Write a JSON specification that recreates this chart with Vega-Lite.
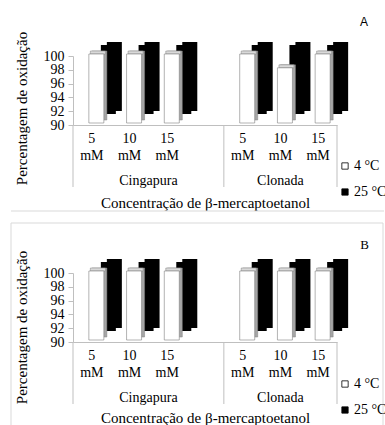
{
  "$schema": "https://vega.github.io/schema/vega-lite/v6.json",
  "background": "white",
  "padding": {"left": 10, "top": 16, "right": 0, "bottom": 0},
  "spacing": 10,
  "datasets": {
    "oxidacao": [
      {"painel": "A", "amostra": "Cingapura", "conc": "5 mM", "categoria": "Cingapura|5 mM", "temp": "4 °C", "valor": 100},
      {"painel": "A", "amostra": "Cingapura", "conc": "5 mM", "categoria": "Cingapura|5 mM", "temp": "25 °C", "valor": 100},
      {"painel": "A", "amostra": "Cingapura", "conc": "10 mM", "categoria": "Cingapura|10 mM", "temp": "4 °C", "valor": 100},
      {"painel": "A", "amostra": "Cingapura", "conc": "10 mM", "categoria": "Cingapura|10 mM", "temp": "25 °C", "valor": 100},
      {"painel": "A", "amostra": "Cingapura", "conc": "15 mM", "categoria": "Cingapura|15 mM", "temp": "4 °C", "valor": 100},
      {"painel": "A", "amostra": "Cingapura", "conc": "15 mM", "categoria": "Cingapura|15 mM", "temp": "25 °C", "valor": 100},
      {"painel": "A", "amostra": "Clonada", "conc": "5 mM", "categoria": "Clonada|5 mM", "temp": "4 °C", "valor": 100},
      {"painel": "A", "amostra": "Clonada", "conc": "5 mM", "categoria": "Clonada|5 mM", "temp": "25 °C", "valor": 100},
      {"painel": "A", "amostra": "Clonada", "conc": "10 mM", "categoria": "Clonada|10 mM", "temp": "4 °C", "valor": 98},
      {"painel": "A", "amostra": "Clonada", "conc": "10 mM", "categoria": "Clonada|10 mM", "temp": "25 °C", "valor": 100},
      {"painel": "A", "amostra": "Clonada", "conc": "15 mM", "categoria": "Clonada|15 mM", "temp": "4 °C", "valor": 100},
      {"painel": "A", "amostra": "Clonada", "conc": "15 mM", "categoria": "Clonada|15 mM", "temp": "25 °C", "valor": 100},
      {"painel": "B", "amostra": "Cingapura", "conc": "5 mM", "categoria": "Cingapura|5 mM", "temp": "4 °C", "valor": 100},
      {"painel": "B", "amostra": "Cingapura", "conc": "5 mM", "categoria": "Cingapura|5 mM", "temp": "25 °C", "valor": 100},
      {"painel": "B", "amostra": "Cingapura", "conc": "10 mM", "categoria": "Cingapura|10 mM", "temp": "4 °C", "valor": 100},
      {"painel": "B", "amostra": "Cingapura", "conc": "10 mM", "categoria": "Cingapura|10 mM", "temp": "25 °C", "valor": 100},
      {"painel": "B", "amostra": "Cingapura", "conc": "15 mM", "categoria": "Cingapura|15 mM", "temp": "4 °C", "valor": 100},
      {"painel": "B", "amostra": "Cingapura", "conc": "15 mM", "categoria": "Cingapura|15 mM", "temp": "25 °C", "valor": 100},
      {"painel": "B", "amostra": "Clonada", "conc": "5 mM", "categoria": "Clonada|5 mM", "temp": "4 °C", "valor": 100},
      {"painel": "B", "amostra": "Clonada", "conc": "5 mM", "categoria": "Clonada|5 mM", "temp": "25 °C", "valor": 100},
      {"painel": "B", "amostra": "Clonada", "conc": "10 mM", "categoria": "Clonada|10 mM", "temp": "4 °C", "valor": 100},
      {"painel": "B", "amostra": "Clonada", "conc": "10 mM", "categoria": "Clonada|10 mM", "temp": "25 °C", "valor": 100},
      {"painel": "B", "amostra": "Clonada", "conc": "15 mM", "categoria": "Clonada|15 mM", "temp": "4 °C", "valor": 100},
      {"painel": "B", "amostra": "Clonada", "conc": "15 mM", "categoria": "Clonada|15 mM", "temp": "25 °C", "valor": 100}
    ]
  },
  "config": {
    "font": "Liberation Serif",
    "view": {"stroke": null},
    "axis": {
      "labelFont": "Liberation Serif",
      "titleFont": "Liberation Serif",
      "labelColor": "#000",
      "titleColor": "#000",
      "titleFontWeight": "normal",
      "domainColor": "#bfbfbf",
      "tickColor": "#bfbfbf",
      "labelOverlap": false,
      "grid": false
    }
  },
  "resolve": {"scale": {"color": "independent"}, "legend": {"color": "independent"}},
  "vconcat": [
    {
      "width": 264,
      "height": 69,
      "title": {"text": "A", "anchor": "end", "frame": "group", "dx": 31, "offset": -7, "baseline": "alphabetic", "font": "Liberation Sans", "fontSize": 12, "fontWeight": "normal", "color": "#000"},
      "data": {"name": "oxidacao"},
      "transform": [{"filter": "datum.painel == 'A'"}],
      "encoding": {
        "x": {
          "field": "categoria", "type": "nominal",
          "scale": {"domain": ["Cingapura|5 mM", "Cingapura|10 mM", "Cingapura|15 mM", "Cingapura|", "Clonada|5 mM", "Clonada|10 mM", "Clonada|15 mM"], "paddingInner": 0, "paddingOuter": 0},
          "title": "Concentração de β-mercaptoetanol",
          "axis": {"labelExpr": "split(split(datum.label, '|')[1], ' ')", "labelAngle": 0, "ticks": false, "tickSize": 0, "labelPadding": 6, "labelFont": "Liberation Serif", "labelFontSize": 14, "labelLineHeight": 17, "labelBaseline": "top", "titleFont": "Liberation Serif", "titleFontSize": 15, "titleX": 132, "titleY": 77, "titleAlign": "center", "titleBaseline": "middle"}
        },
        "y": {
          "field": "valor", "type": "quantitative",
          "scale": {"domain": [90, 100], "nice": false, "zero": false},
          "title": "Percentagem de oxidação",
          "axis": {"values": [90, 92, 94, 96, 98, 100], "format": "d", "labelOverlap": false, "tickSize": 5, "labelPadding": 4, "labelFont": "Liberation Serif", "labelFontSize": 14, "titleFont": "Liberation Serif", "titleFontSize": 15, "titleX": -52, "titleY": 52, "titleAngle": -90, "titleAlign": "center", "titleBaseline": "middle"}
        }
      },
      "layer": [
        {
          "transform": [{"filter": "datum.categoria == 'Cingapura|5 mM' && datum.temp == '4 °C'"}],
          "mark": {"type": "rule", "color": "#d9d9d9", "xOffset": -62, "x2Offset": 47, "yOffset": 86},
          "encoding": {
            "x": {"datum": "Cingapura|5 mM", "bandPosition": 0, "title": "Concentração de β-mercaptoetanol"},
            "x2": {"datum": "Clonada|15 mM", "bandPosition": 1},
            "y": {"datum": 90}
          }
        },
        {
          "transform": [{"filter": "datum.temp == '25 °C'"}],
          "mark": {"type": "bar", "width": 15, "xOffset": 22.5, "yOffset": -14, "y2Offset": -14, "color": "#000"},
          "encoding": {"y2": {"datum": 90}}
        },
        {
          "transform": [{"filter": "datum.temp == '25 °C'"}],
          "mark": {"type": "bar", "width": 15, "xOffset": 16.5, "yOffset": -11, "y2Offset": -11, "color": "#000"},
          "encoding": {"y2": {"datum": 90}}
        },
        {
          "transform": [{"filter": "datum.temp == '4 °C'"}],
          "mark": {"type": "bar", "width": 15, "xOffset": 7.5, "yOffset": -5, "y2Offset": -5, "color": "#a6a6a6", "stroke": "#808080", "strokeWidth": 0.5},
          "encoding": {"y2": {"datum": 90}}
        },
        {
          "transform": [{"filter": "datum.temp == '4 °C'"}],
          "mark": {"type": "bar", "width": 15, "xOffset": 6, "yOffset": -5, "y2Offset": -2, "color": "#d9d9d9", "stroke": "#808080", "strokeWidth": 0.5},
          "encoding": {"y2": {"field": "valor"}}
        },
        {
          "transform": [{"filter": "datum.temp == '4 °C'"}],
          "mark": {"type": "bar", "width": 15, "xOffset": 4.5, "yOffset": -2, "y2Offset": -2, "stroke": "#808080", "strokeWidth": 0.6},
          "encoding": {
            "y2": {"datum": 90},
            "color": {
              "field": "temp", "type": "nominal",
              "scale": {"domain": ["4 °C", "25 °C"], "range": ["#ffffff", "#000000"]},
              "legend": {"orient": "none", "legendX": 265, "legendY": 103, "title": null, "padding": 0, "symbolType": "square", "symbolSize": 40, "symbolStrokeColor": "#000", "symbolStrokeWidth": 0.8, "labelFont": "Liberation Serif", "labelFontSize": 14, "labelColor": "#000", "labelOffset": 2, "rowPadding": 12}
            }
          }
        },
        {
          "transform": [{"filter": "datum.conc == '5 mM' && datum.temp == '4 °C'"}],
          "mark": {"type": "rule", "color": "#bfbfbf", "y2Offset": 62},
          "encoding": {
            "x": {"field": "categoria", "type": "nominal", "bandPosition": 0, "title": "Concentração de β-mercaptoetanol"},
            "y": {"datum": 90},
            "y2": {"datum": 90}
          }
        },
        {
          "transform": [{"filter": "datum.categoria == 'Clonada|15 mM' && datum.temp == '4 °C'"}],
          "mark": {"type": "rule", "color": "#bfbfbf", "y2Offset": 62},
          "encoding": {
            "x": {"field": "categoria", "type": "nominal", "bandPosition": 1, "title": "Concentração de β-mercaptoetanol"},
            "y": {"datum": 90},
            "y2": {"datum": 90}
          }
        },
        {
          "transform": [{"filter": "datum.categoria == 'Cingapura|10 mM' && datum.temp == '4 °C'"}],
          "mark": {"type": "text", "yOffset": 56, "baseline": "middle", "align": "center", "font": "Liberation Serif", "fontSize": 14, "color": "#000"},
          "encoding": {
            "x": {"field": "categoria", "type": "nominal", "bandPosition": 1, "title": "Concentração de β-mercaptoetanol"},
            "y": {"datum": 90},
            "text": {"field": "amostra"}
          }
        },
        {
          "transform": [{"filter": "datum.categoria == 'Clonada|10 mM' && datum.temp == '4 °C'"}],
          "mark": {"type": "text", "yOffset": 56, "baseline": "middle", "align": "center", "font": "Liberation Serif", "fontSize": 14, "color": "#000"},
          "encoding": {
            "x": {"field": "categoria", "type": "nominal", "bandPosition": 0.5, "title": "Concentração de β-mercaptoetanol"},
            "y": {"datum": 90},
            "text": {"field": "amostra"}
          }
        }
      ]
    },
    {
      "width": 264,
      "height": 69,
      "title": {"text": "B", "anchor": "end", "frame": "group", "dx": 32, "offset": -39, "baseline": "alphabetic", "font": "Liberation Serif", "fontSize": 13, "fontWeight": "normal", "color": "#000"},
      "data": {"name": "oxidacao"},
      "transform": [{"filter": "datum.painel == 'B'"}],
      "encoding": {
        "x": {
          "field": "categoria", "type": "nominal",
          "scale": {"domain": ["Cingapura|5 mM", "Cingapura|10 mM", "Cingapura|15 mM", "Cingapura|", "Clonada|5 mM", "Clonada|10 mM", "Clonada|15 mM"], "paddingInner": 0, "paddingOuter": 0},
          "title": "Concentração de β-mercaptoetanol",
          "axis": {"labelExpr": "split(split(datum.label, '|')[1], ' ')", "labelAngle": 0, "ticks": false, "tickSize": 0, "labelPadding": 6, "labelFont": "Liberation Serif", "labelFontSize": 14, "labelLineHeight": 17, "labelBaseline": "top", "titleFont": "Liberation Serif", "titleFontSize": 15, "titleX": 132, "titleY": 75, "titleAlign": "center", "titleBaseline": "middle"}
        },
        "y": {
          "field": "valor", "type": "quantitative",
          "scale": {"domain": [90, 100], "nice": false, "zero": false},
          "title": "Percentagem de oxidação",
          "axis": {"values": [90, 92, 94, 96, 98, 100], "format": "d", "labelOverlap": false, "tickSize": 5, "labelPadding": 4, "labelFont": "Liberation Serif", "labelFontSize": 14, "titleFont": "Liberation Serif", "titleFontSize": 15, "titleX": -52, "titleY": 54, "titleAngle": -90, "titleAlign": "center", "titleBaseline": "middle"}
        }
      },
      "layer": [
        {
          "transform": [{"filter": "datum.categoria == 'Cingapura|5 mM' && datum.temp == '4 °C'"}],
          "mark": {"type": "rect", "filled": false, "stroke": "#d9d9d9", "strokeWidth": 1, "xOffset": -62, "x2Offset": 46, "yOffset": -50, "y2Offset": 92},
          "encoding": {
            "x": {"datum": "Cingapura|5 mM", "bandPosition": 0, "title": "Concentração de β-mercaptoetanol"},
            "x2": {"datum": "Clonada|15 mM", "bandPosition": 1},
            "y": {"datum": 100},
            "y2": {"datum": 90}
          }
        },
        {
          "transform": [{"filter": "datum.temp == '25 °C'"}],
          "mark": {"type": "bar", "width": 15, "xOffset": 22.5, "yOffset": -14, "y2Offset": -14, "color": "#000"},
          "encoding": {"y2": {"datum": 90}}
        },
        {
          "transform": [{"filter": "datum.temp == '25 °C'"}],
          "mark": {"type": "bar", "width": 15, "xOffset": 16.5, "yOffset": -11, "y2Offset": -11, "color": "#000"},
          "encoding": {"y2": {"datum": 90}}
        },
        {
          "transform": [{"filter": "datum.temp == '4 °C'"}],
          "mark": {"type": "bar", "width": 15, "xOffset": 7.5, "yOffset": -5, "y2Offset": -5, "color": "#a6a6a6", "stroke": "#808080", "strokeWidth": 0.5},
          "encoding": {"y2": {"datum": 90}}
        },
        {
          "transform": [{"filter": "datum.temp == '4 °C'"}],
          "mark": {"type": "bar", "width": 15, "xOffset": 6, "yOffset": -5, "y2Offset": -2, "color": "#d9d9d9", "stroke": "#808080", "strokeWidth": 0.5},
          "encoding": {"y2": {"field": "valor"}}
        },
        {
          "transform": [{"filter": "datum.temp == '4 °C'"}],
          "mark": {"type": "bar", "width": 15, "xOffset": 4.5, "yOffset": -2, "y2Offset": -2, "stroke": "#808080", "strokeWidth": 0.6},
          "encoding": {
            "y2": {"datum": 90},
            "color": {
              "field": "temp", "type": "nominal",
              "scale": {"domain": ["4 °C", "25 °C"], "range": ["#ffffff", "#000000"]},
              "legend": {"orient": "none", "legendX": 265, "legendY": 104, "title": null, "padding": 0, "symbolType": "square", "symbolSize": 40, "symbolStrokeColor": "#000", "symbolStrokeWidth": 0.8, "labelFont": "Liberation Serif", "labelFontSize": 14, "labelColor": "#000", "labelOffset": 2, "rowPadding": 12}
            }
          }
        },
        {
          "transform": [{"filter": "datum.conc == '5 mM' && datum.temp == '4 °C'"}],
          "mark": {"type": "rule", "color": "#bfbfbf", "y2Offset": 62},
          "encoding": {
            "x": {"field": "categoria", "type": "nominal", "bandPosition": 0, "title": "Concentração de β-mercaptoetanol"},
            "y": {"datum": 90},
            "y2": {"datum": 90}
          }
        },
        {
          "transform": [{"filter": "datum.categoria == 'Clonada|15 mM' && datum.temp == '4 °C'"}],
          "mark": {"type": "rule", "color": "#bfbfbf", "y2Offset": 62},
          "encoding": {
            "x": {"field": "categoria", "type": "nominal", "bandPosition": 1, "title": "Concentração de β-mercaptoetanol"},
            "y": {"datum": 90},
            "y2": {"datum": 90}
          }
        },
        {
          "transform": [{"filter": "datum.categoria == 'Cingapura|10 mM' && datum.temp == '4 °C'"}],
          "mark": {"type": "text", "yOffset": 56, "baseline": "middle", "align": "center", "font": "Liberation Serif", "fontSize": 14, "color": "#000"},
          "encoding": {
            "x": {"field": "categoria", "type": "nominal", "bandPosition": 1, "title": "Concentração de β-mercaptoetanol"},
            "y": {"datum": 90},
            "text": {"field": "amostra"}
          }
        },
        {
          "transform": [{"filter": "datum.categoria == 'Clonada|10 mM' && datum.temp == '4 °C'"}],
          "mark": {"type": "text", "yOffset": 56, "baseline": "middle", "align": "center", "font": "Liberation Serif", "fontSize": 14, "color": "#000"},
          "encoding": {
            "x": {"field": "categoria", "type": "nominal", "bandPosition": 0.5, "title": "Concentração de β-mercaptoetanol"},
            "y": {"datum": 90},
            "text": {"field": "amostra"}
          }
        }
      ]
    }
  ]
}
